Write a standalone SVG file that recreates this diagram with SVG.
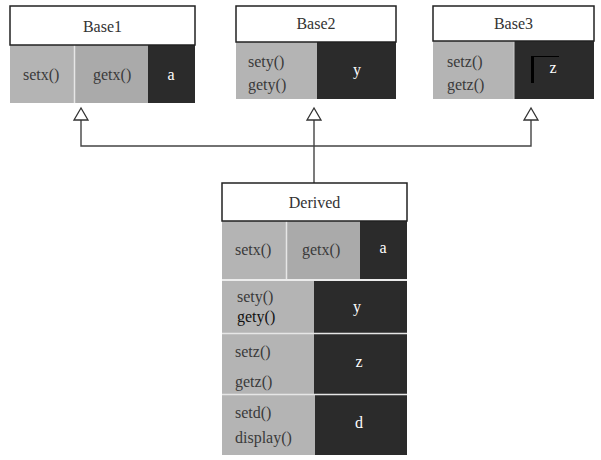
<svg xmlns="http://www.w3.org/2000/svg" width="601" height="460" viewBox="0 0 601 460">
<style>
.title{fill:#fff;stroke:#222;stroke-width:1.5}
.lt{fill:#b4b4b4}
.md{fill:#aaaaaa}
.dk{fill:#2b2b2b}
.sep{stroke:#e6e6e6;stroke-width:1.5;fill:none}
text{font-size:16px}
.t{fill:#333;text-anchor:middle}
.l{fill:#3a3a3a}
.w{fill:#fff;text-anchor:middle}
.conn{stroke:#444;stroke-width:1.4;fill:none}
.arr{stroke:#333;stroke-width:1.3;fill:#fff}
</style>
<g id="connectors">
<path class="conn" d="M314,183 V120 M81,120 V146 H531 V120"/>
<polygon class="arr" points="81,108 74,120 88,120"/>
<polygon class="arr" points="314,108 307,120 321,120"/>
<polygon class="arr" points="531,108 524,120 538,120"/>
</g>
<g font-family="Liberation Serif, Times New Roman, serif">
<g id="base1">
<rect class="lt" x="10" y="45" width="64" height="58"/>
<rect class="md" x="75" y="45" width="73" height="58"/>
<rect class="dk" x="148" y="45" width="47" height="58"/>
<line class="sep" x1="74.5" y1="45" x2="74.5" y2="103"/>
<rect class="title" x="10" y="6" width="185" height="39"/>
<text class="t" x="102.5" y="32">Base1</text>
<text class="l" x="23" y="80">setx()</text>
<text class="l" x="93" y="80">getx()</text>
<text class="w" x="171" y="80">a</text>
</g>
<g id="base2">
<rect class="lt" x="236" y="42" width="81" height="57"/>
<rect class="dk" x="317" y="42" width="79" height="57"/>
<rect class="title" x="236" y="6" width="160" height="36"/>
<text class="t" x="316" y="29">Base2</text>
<text class="l" x="248" y="67">sety()</text>
<text class="l" x="248" y="90">gety()</text>
<text class="w" x="357" y="75">y</text>
</g>
<g id="base3">
<rect class="lt" x="433" y="41" width="81" height="58"/>
<rect class="dk" x="514" y="41" width="80" height="58"/>
<line x1="514" y1="41" x2="514" y2="99" stroke="#d0d0d0" stroke-width="1"/>
<rect class="title" x="433" y="6" width="161" height="35"/>
<text class="t" x="513.5" y="29">Base3</text>
<text class="l" x="447" y="67">setz()</text>
<text class="l" x="447" y="90">getz()</text>
<rect x="531" y="56" width="3" height="27" fill="#000"/>
<line x1="531" y1="56.5" x2="559" y2="56.5" stroke="#000" stroke-width="1"/>
<text class="w" x="553" y="73">z</text>
</g>
<g id="derived">
<rect class="lt" x="222" y="221" width="64" height="58"/>
<rect class="md" x="287" y="221" width="73" height="58"/>
<rect class="dk" x="360" y="221" width="47" height="58"/>
<rect class="lt" x="222" y="281" width="92" height="52"/>
<rect class="dk" x="314" y="281" width="93" height="52"/>
<rect class="lt" x="222" y="334" width="92" height="60"/>
<rect class="dk" x="314" y="334" width="93" height="60"/>
<rect class="lt" x="222" y="395" width="93" height="60"/>
<rect class="dk" x="315" y="395" width="92" height="60"/>
<path class="sep" d="M286.5,221 V279 M222,280 H407 M222,333.5 H407 M222,394.5 H407"/>
<rect class="title" x="222" y="183" width="185" height="38"/>
<text class="t" x="314.5" y="208">Derived</text>
<text class="l" x="235" y="255">setx()</text>
<text class="l" x="302" y="255">getx()</text>
<text class="w" x="383" y="253">a</text>
<text class="l" x="237" y="302">sety()</text>
<text class="l" x="237" y="322" fill="#111" style="fill:#111">gety()</text>
<text class="w" x="357" y="312">y</text>
<text class="l" x="235" y="357">setz()</text>
<text class="l" x="235" y="387">getz()</text>
<text class="w" x="359" y="367">z</text>
<text class="l" x="235" y="418">setd()</text>
<text class="l" x="235" y="443">display()</text>
<text class="w" x="359" y="428">d</text>
</g>
</g>
</svg>
